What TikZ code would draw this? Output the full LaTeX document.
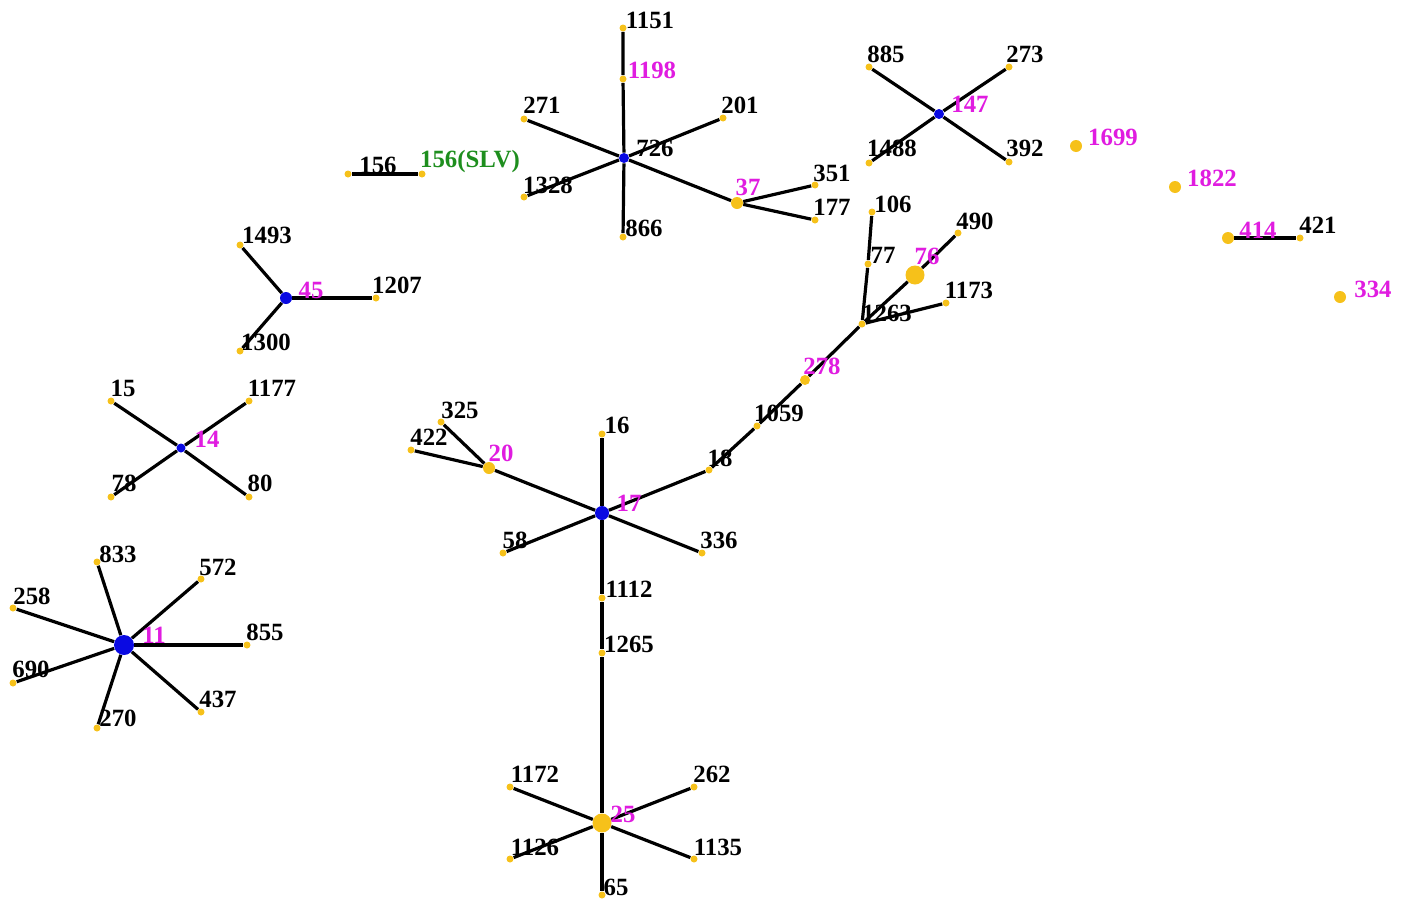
\documentclass[tikz,border=0pt]{standalone}
\usepackage{fontspec}
\setmainfont{Liberation Serif}
\usetikzlibrary{backgrounds}
\definecolor{stdot}{HTML}{F6C11A}
\definecolor{founder}{HTML}{0A0AE2}
\definecolor{grp}{HTML}{E01CE0}
\definecolor{slv}{HTML}{1E8E1E}
\tikzset{st/.style={circle,fill=stdot,inner sep=0pt,minimum size=3.5pt},mid/.style={st,minimum size=6pt},big/.style={st,minimum size=9.5pt},fnd/.style={st,fill=founder,minimum size=5pt},lab/.style={font=\bfseries\fontsize{12.4}{12.4}\selectfont,inner sep=0pt},pink/.style={lab,text=grp},green/.style={lab,text=slv},link/.style={line width=1.6pt}}

\begin{document}
\begin{tikzpicture}[x=0.5pt,y=-0.5pt]
\useasboundingbox (0,0) rectangle (1407,900);
% CC 726 complex
\node[fnd] (s726) at (624,158) {};\node[st] (s1151) at (623,28) {};\node[st] (s1198) at (623,79) {};\node[st] (s271) at (524,119) {};\node[st] (s201) at (723,118) {};\node[st] (s1328) at (524,197) {};\node[st] (s866) at (623,237) {};\node[mid] (s37) at (737,203) {};\node[st] (s351) at (815,185) {};\node[st] (s177) at (815,220) {};
\node[st] (s156) at (348,174) {};\node[st] (s156v) at (422,174) {};
% CC 147 and singletons
\node[fnd] (s147) at (939,114) {};\node[st] (s885) at (869,67) {};\node[st] (s273) at (1009,67) {};\node[st] (s1488) at (869,163) {};\node[st] (s392) at (1009,162) {};
\node[mid] (s1699) at (1076,146) {};\node[mid] (s1822) at (1175,187) {};\node[mid] (s414) at (1228,238) {};\node[st] (s421) at (1300,238) {};\node[mid] (s334) at (1340,297) {};
% CC 45, 14, 11
\node[fnd,minimum size=6pt] (s45) at (286,298) {};\node[st] (s1493) at (240,245) {};\node[st] (s1207) at (376,298) {};\node[st] (s1300) at (240,351) {};
\node[fnd,minimum size=4.5pt] (s14) at (181,448) {};\node[st] (s15) at (111,401) {};\node[st] (s1177) at (249,401) {};\node[st] (s78) at (111,497) {};\node[st] (s80) at (249,497) {};
\node[fnd,minimum size=10pt] (s11) at (124,645) {};\node[st] (s833) at (97,562) {};\node[st] (s572) at (201,579) {};\node[st] (s258) at (13,608) {};\node[st] (s855) at (247,645) {};\node[st] (s690) at (13,683) {};\node[st] (s270) at (97,728) {};\node[st] (s437) at (201,712) {};
% CC 17 complex
\node[fnd,minimum size=7pt] (s17) at (602,513) {};\node[st] (s16) at (602,434) {};\node[mid] (s20) at (489,468) {};\node[st] (s325) at (441,422) {};\node[st] (s422) at (411,450) {};\node[st] (s58) at (503,553) {};\node[st] (s336) at (702,553) {};
\node[st] (s18) at (709,470) {};\node[st] (s1059) at (757,426) {};\node[mid,minimum size=5pt] (s278) at (805,380) {};\node[st] (s1263) at (862,324) {};\node[st] (s77) at (868,264) {};\node[st] (s106) at (872,212) {};\node[big] (s76) at (915,275) {};\node[st] (s490) at (958,233) {};\node[st] (s1173) at (946,303) {};
\node[st] (s1112) at (602,598) {};\node[st] (s1265) at (602,653) {};\node[big] (s25) at (602,823) {};\node[st] (s1172) at (510,787) {};\node[st] (s262) at (694,787) {};\node[st] (s1126) at (510,859) {};\node[st] (s1135) at (694,859) {};\node[st] (s65) at (602,895) {};
% links
\begin{scope}[on background layer]
\draw[link] (s156) -- (s156v);\draw[link] (s726) -- (s1198) -- (s1151);\draw[link] (s726) -- (s271);\draw[link] (s726) -- (s201);\draw[link] (s726) -- (s1328);\draw[link] (s726) -- (s866);\draw[link] (s726) -- (s37);\draw[link] (s37) -- (s351);\draw[link] (s37) -- (s177);
\draw[link] (s147) -- (s885);\draw[link] (s147) -- (s273);\draw[link] (s147) -- (s1488);\draw[link] (s147) -- (s392);\draw[link] (s414) -- (s421);
\draw[link] (s45) -- (s1493);\draw[link] (s45) -- (s1207);\draw[link] (s45) -- (s1300);
\draw[link] (s14) -- (s15);\draw[link] (s14) -- (s1177);\draw[link] (s14) -- (s78);\draw[link] (s14) -- (s80);
\draw[link] (s11) -- (s833);\draw[link] (s11) -- (s572);\draw[link] (s11) -- (s258);\draw[link] (s11) -- (s855);\draw[link] (s11) -- (s690);\draw[link] (s11) -- (s270);\draw[link] (s11) -- (s437);
\draw[link] (s17) -- (s16);\draw[link] (s17) -- (s20);\draw[link] (s20) -- (s325);\draw[link] (s20) -- (s422);\draw[link] (s17) -- (s58);\draw[link] (s17) -- (s336);
\draw[link] (s17) -- (s18) -- (s1059) -- (s278) -- (s1263);\draw[link] (s1263) -- (s77) -- (s106);\draw[link] (s1263) -- (s76) -- (s490);\draw[link] (s1263) -- (s1173);
\draw[link] (s17) -- (s1112) -- (s1265) -- (s25);\draw[link] (s25) -- (s1172);\draw[link] (s25) -- (s262);\draw[link] (s25) -- (s1126);\draw[link] (s25) -- (s1135);\draw[link] (s25) -- (s65);
\end{scope}
% labels
\node[lab] (t1151) at (650,20) {1151};\node[pink] (t1198) at (652,70) {1198};\node[lab] (t271) at (542,105) {271};\node[lab] (t201) at (740,105) {201};\node[lab] (t726) at (655,148) {726};\node[lab] (t1328) at (548,185) {1328};\node[lab] (t866) at (644,228) {866};\node[pink] (t37) at (748,187) {37};\node[lab] (t351) at (832,173) {351};\node[lab] (t177) at (832,207) {177};
\node[lab] (t156) at (378,165) {156};\node[green] (t156v) at (470,162) {156(SLV)};
\node[pink] (t147) at (970,104) {147};\node[lab] (t885) at (886,54) {885};\node[lab] (t273) at (1025,54) {273};\node[lab] (t1488) at (892,148) {1488};\node[lab] (t392) at (1025,148) {392};
\node[pink] (t1699) at (1113,137) {1699};\node[pink] (t1822) at (1212,178) {1822};\node[pink] (t414) at (1258,230) {414};\node[lab] (t421) at (1318,225) {421};\node[pink] (t334) at (1373,289) {334};
\node[pink] (t45) at (311,290) {45};\node[lab] (t1493) at (267,235) {1493};\node[lab] (t1207) at (397,285) {1207};\node[lab] (t1300) at (266,342) {1300};
\node[pink] (t14) at (207,439) {14};\node[lab] (t15) at (123,388) {15};\node[lab] (t1177) at (272,388) {1177};\node[lab] (t78) at (124,483) {78};\node[lab] (t80) at (260,483) {80};
\node[pink] (t11) at (154,635) {11};\node[lab] (t833) at (118,554) {833};\node[lab] (t572) at (218,567) {572};\node[lab] (t258) at (32,596) {258};\node[lab] (t855) at (265,632) {855};\node[lab] (t690) at (31,669) {690};\node[lab] (t270) at (118,718) {270};\node[lab] (t437) at (218,699) {437};
\node[pink] (t17) at (629,503) {17};\node[lab] (t16) at (617,425) {16};\node[pink] (t20) at (501,453) {20};\node[lab] (t325) at (460,410) {325};\node[lab] (t422) at (429,437) {422};\node[lab] (t58) at (515,540) {58};\node[lab] (t336) at (719,540) {336};
\node[lab] (t18) at (720,458) {18};\node[lab] (t1059) at (779,413) {1059};\node[pink] (t278) at (822,366) {278};\node[lab] (t1263) at (887,313) {1263};\node[lab] (t77) at (883,255) {77};\node[lab] (t106) at (893,204) {106};\node[pink] (t76) at (927,256) {76};\node[lab] (t490) at (975,221) {490};\node[lab] (t1173) at (969,290) {1173};
\node[lab] (t1112) at (629,589) {1112};\node[lab] (t1265) at (629,644) {1265};\node[pink] (t25) at (623,814) {25};\node[lab] (t1172) at (535,774) {1172};\node[lab] (t262) at (712,774) {262};\node[lab] (t1126) at (535,847) {1126};\node[lab] (t1135) at (718,847) {1135};\node[lab] (t65) at (616,887) {65};
\end{tikzpicture}
\end{document}
